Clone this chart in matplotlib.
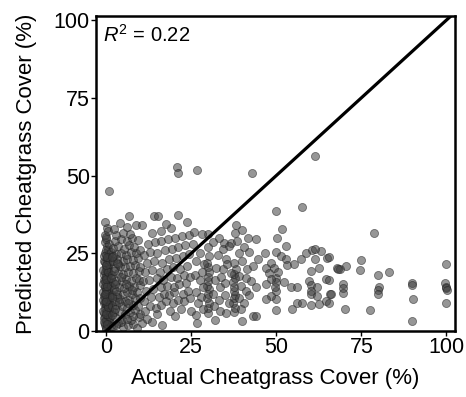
import matplotlib
matplotlib.use("Agg")
import matplotlib.pyplot as plt

plt.rcParams['font.family'] = ['Liberation Sans', 'DejaVu Sans']
plt.rcParams['mathtext.fontset'] = 'custom'
plt.rcParams['mathtext.rm'] = 'Liberation Sans'
plt.rcParams['mathtext.it'] = 'Liberation Sans:italic'

# ---- data: actual (x) vs predicted (y) cheatgrass cover, % ----
zero_actual = [0.0, 0.5, -0.5, 0.2, 0.8, -0.3, 0.4, -0.7, 0.1, 0.7,
               -0.2, 0.3, -0.6, 0.6, 0.0, -0.4, 0.5, 0.1, -0.8, 0.4,
               0.0, -0.3, 0.6, 0.2, -0.6, 0.3, -0.1, 0.5, -0.4, 0.1,
               0.6, -0.2, 0.2, -0.6, 0.4, 0.0, -0.3, 0.5, 0.1, -0.5,
               0.3, -0.3, 0.9, 0.0, -0.6, 0.6, 0.2, -0.1, 0.9, -0.5,
               0.4, 0.0, -0.3, 0.8, 0.3, -0.6, 0.0, 0.7, -0.2, 0.3,
               -0.5, 0.8, 0.0, -0.3, 0.5, 0.0, -0.6, 0.8, 0.2, -0.2,
               0.3, 0.9, -0.4, 0.1, 0.7, -0.1, 0.9, 0.0, -0.4, 0.2,
               -0.3, 0.7, 0.0, 0.6, -0.7, 1.0, 1.2, 1.1, 1.3, 1.0,
               1.2, 1.4, -0.9, -0.8, -0.9, -0.7, 1.3, 1.0, -0.9, 0.0,
               0.1, -0.2, 0.4, 0.0, -0.4, 0.3, 0.0, 0.5, -0.1, 0.2]
zero_pred = [1.0, 1.8, 2.5, 3.2, 3.9, 4.6, 5.2, 5.9, 6.5, 7.1,
             7.8, 8.4, 9.0, 9.6, 10.2, 10.9, 11.5, 12.1, 12.7, 13.3,
             13.9, 14.6, 15.2, 15.8, 16.4, 17.0, 17.7, 18.3, 19.0, 19.6,
             20.3, 21.0, 21.8, 22.6, 23.4, 24.3, 25.2, 26.1, 27.4, 28.6,
             1.5, 2.0, 2.8, 3.6, 4.2, 4.9, 5.6, 6.2, 6.8, 7.4,
             8.0, 8.8, 9.4, 10.0, 10.6, 11.2, 11.8, 12.4, 13.0, 13.6,
             14.2, 14.8, 15.5, 16.1, 16.7, 17.3, 18.0, 18.7, 19.3, 20.0,
             20.7, 21.4, 22.2, 23.0, 24.7, 26.0, 27.9, 29.5, 31.0, 33.0,
             35.2, 45.0, 30.2, 32.1, 3.0, 4.5, 8.6, 11.0, 14.5, 17.5,
             22.5, 25.5, 10.0, 15.0, 19.5, 24.0, 1.5, 6.0, 6.5, 0.5,
             2.2, 5.4, 7.6, 9.8, 12.0, 14.4, 16.6, 18.9, 21.2, 23.8]

low_actual = [2.0, 3.5, 5.0, 6.5, 8.0, 9.0, 7.2, 4.5, 2.5, 9.5,
              2.2, 3.8, 5.5, 7.0, 8.5, 10.0, 1.8, 3.0, 4.6, 6.0,
              7.8, 9.2, 2.5, 4.0, 5.5, 6.8, 8.5, 1.8, 3.2, 4.8,
              6.2, 7.5, 9.0, 2.2, 3.8, 5.2, 6.8, 8.2, 9.8, 2.0,
              3.0, 4.5, 5.8, 7.2, 8.8, 1.8, 3.5, 5.0, 6.5, 8.0,
              9.5, 2.5, 4.0, 5.5, 7.0, 8.6, 2.0, 3.2, 4.8, 6.2,
              7.8, 9.2, 2.8, 4.3, 5.8, 7.2, 8.8, 2.0, 3.6, 5.2,
              6.8, 8.3, 2.5, 4.2, 6.0, 7.6, 9.3, 3.0, 5.0, 7.0,
              2.2, 4.1, 6.0, 6.8, 8.8, 1.9, 3.5, 4.4, 5.9, 7.5,
              3.1, 6.5, 8.0, 4.2, 2.8, 6.0, 9.8, 9.5, 10.0, 10.0,
              1.6, 2.6, 1.7, 2.9, 1.5, 2.4, 3.3, 1.6, 2.7, 3.9]
low_pred = [1.5, 2.5, 1.2, 2.0, 2.2, 1.0, 3.5, 4.0, 4.5, 4.5,
            6.0, 6.5, 5.5, 6.0, 6.8, 5.5, 8.0, 8.5, 8.0, 7.5,
            8.5, 8.2, 9.8, 10.2, 9.5, 10.0, 10.5, 11.5, 12.0, 11.8,
            12.5, 12.0, 12.4, 13.5, 14.0, 13.8, 14.5, 14.0, 14.8, 15.8,
            16.2, 16.0, 16.8, 16.2, 17.0, 18.0, 18.5, 18.2, 19.0, 18.8,
            19.2, 20.2, 20.8, 20.5, 21.0, 21.2, 22.5, 23.0, 22.6, 23.2,
            22.8, 23.5, 24.8, 25.2, 24.6, 25.5, 25.0, 26.8, 27.2, 26.5,
            27.5, 27.0, 29.0, 29.5, 28.8, 29.8, 29.2, 31.0, 31.5, 31.2,
            32.8, 34.6, 33.5, 37.1, 34.0, 24.0, 21.5, 17.5, 15.0, 13.2,
            11.0, 9.0, 4.8, 3.0, 2.0, 3.8, 10.5, 16.5, 20.5, 26.0,
            5.0, 7.2, 10.8, 13.0, 16.9, 19.4, 21.8, 23.9, 15.0, 9.2]

mid_actual = [10.5, 12.0, 13.5, 15.0, 16.5, 18.8, 20.2, 22.0, 24.9, 11.5,
              12.8, 14.5, 16.0, 17.5, 19.5, 21.0, 23.0, 24.5, 11.0, 13.2,
              15.5, 17.0, 18.5, 20.0, 22.5, 24.0, 11.8, 13.8, 16.2, 18.0,
              19.8, 21.5, 23.5, 10.8, 12.5, 14.8, 16.8, 19.0, 20.8, 22.8,
              24.5, 11.5, 13.5, 15.8, 17.8, 19.5, 21.8, 23.8, 12.0, 14.0,
              16.5, 18.5, 20.5, 22.5, 24.4, 11.0, 13.0, 15.0, 17.2, 19.2,
              21.2, 23.2, 12.2, 14.2, 16.2, 18.2, 20.2, 22.2, 24.2, 13.5,
              16.0, 19.0, 21.0, 23.8, 13.9, 15.3, 20.7, 21.2, 10.5, 17.5]
mid_pred = [2.5, 4.0, 3.0, 5.5, 2.0, 6.5, 4.8, 7.0, 6.5, 6.5,
            8.0, 7.5, 8.5, 9.5, 9.0, 10.0, 9.5, 10.5, 9.8, 10.8,
            11.0, 12.0, 11.5, 12.5, 12.0, 13.0, 13.0, 13.5, 14.0, 14.5,
            14.0, 15.0, 15.5, 16.0, 16.5, 17.0, 16.5, 17.5, 17.0, 18.0,
            17.5, 19.0, 19.5, 19.0, 20.0, 20.5, 20.0, 21.0, 22.0, 22.5,
            22.0, 23.0, 23.5, 24.2, 24.7, 24.5, 25.5, 25.0, 26.0, 26.5,
            27.0, 27.5, 28.0, 28.5, 29.0, 29.5, 30.0, 30.5, 31.0, 31.5,
            32.0, 33.0, 37.3, 34.9, 36.9, 36.9, 52.7, 50.8, 34.0, 34.5]

upper_actual = [30.0, 29.8, 30.2, 29.6, 30.0, 30.3, 29.7, 30.0, 29.8, 30.2,
                30.0, 29.6, 30.3, 29.8, 30.0, 37.6, 37.8, 37.4, 37.6, 37.9,
                37.5, 37.7, 37.4, 37.8, 37.6, 38.0, 37.5, 37.9, 38.1, 26.7,
                25.9, 28.1, 34.7, 36.6, 38.3, 40.0, 41.8, 34.2, 36.1, 40.5,
                26.4, 28.8, 32.2, 34.2, 35.2, 36.6, 39.0, 40.0, 41.5, 43.0,
                26.0, 27.5, 28.5, 32.0, 33.5, 35.0, 39.5, 41.0, 42.5, 26.5,
                28.0, 31.5, 33.0, 34.8, 36.0, 39.0, 40.5, 42.0, 27.0, 28.5,
                31.8, 33.5, 35.2, 40.0, 43.0, 39.5, 26.5, 32.0, 27.5, 32.8,
                25.5, 31.5, 33.0, 42.0, 39.0, 35.5, 41.0, 28.2, 33.8, 26.8]
upper_pred = [5.9, 7.5, 9.0, 10.5, 12.0, 13.5, 14.5, 16.0, 17.5, 19.0,
              20.5, 22.0, 24.0, 26.9, 31.2, 6.0, 7.5, 9.0, 10.5, 11.5,
              12.8, 14.0, 15.6, 17.0, 18.3, 20.0, 22.0, 31.4, 34.2, 51.9,
              31.7, 31.2, 28.2, 28.2, 28.8, 32.5, 29.9, 26.4, 27.4, 26.9,
              22.6, 21.5, 20.4, 19.9, 23.1, 18.8, 17.7, 22.6, 19.9, 21.0,
              18.0, 16.5, 14.0, 16.5, 14.0, 15.5, 14.5, 13.0, 16.0, 12.5,
              11.0, 12.0, 10.0, 11.5, 9.0, 10.5, 9.0, 11.5, 9.0, 7.0,
              8.0, 6.5, 5.9, 3.2, 4.8, 7.0, 5.0, 3.5, 25.0, 24.5,
              28.0, 28.5, 30.0, 25.5, 25.0, 21.5, 17.0, 19.0, 17.5, 2.5]

high_actual = [52.7, 46.7, 44.7, 49.8, 51.3, 52.7, 48.3, 46.9, 49.3, 53.2,
               55.2, 57.1, 58.6, 60.6, 63.0, 61.5, 65.0, 60.1, 62.5, 47.8,
               50.0, 49.8, 48.3, 52.2, 54.2, 56.1, 46.9, 43.9, 59.6, 60.1,
               62.0, 60.1, 60.1, 64.7, 62.0, 65.9, 49.8, 49.8, 48.3, 46.9,
               56.1, 57.4, 60.1, 62.5, 64.5, 54.7, 49.8, 67.9, 44.0,
               49.8, 57.6, 51.6, 50.3, 44.1, 61.5, 42.7, 61.5, 65.6, 65.6,
               66.1, 65.6, 49.5, 50.5]
high_pred = [27.2, 25.0, 23.3, 25.3, 24.2, 23.3, 22.0, 20.1, 20.1, 21.2,
             21.5, 23.1, 25.0, 26.1, 25.8, 23.1, 23.6, 19.4, 20.4, 18.8,
             17.2, 15.6, 16.7, 15.6, 14.0, 14.0, 15.1, 14.0, 16.1, 14.7,
             14.0, 12.9, 11.8, 16.7, 11.3, 11.8, 12.9, 10.2, 11.3, 10.2,
             9.1, 8.9, 8.3, 8.6, 9.7, 7.2, 6.7, 20.1, 4.8,
             38.5, 39.8, 32.8, 29.8, 29.6, 26.4, 50.7, 56.2, 23.9, 16.3,
             11.8, 9.1, 14.0, 19.0]

top_actual = [68.6, 70.5, 75.0, 74.5, 79.9, 83.1, 69.5, 69.7, 69.7, 70.3,
              77.6, 80.3, 79.9, 79.9, 90.0, 89.8, 90.1, 89.8, 99.8, 99.6,
              99.8, 100.0, 100.2, 99.8, 78.8, 68.2]
top_pred = [20.0, 21.0, 22.8, 19.7, 18.0, 19.0, 15.0, 13.7, 12.3, 7.2,
            6.8, 14.2, 13.1, 11.8, 15.5, 14.7, 10.4, 3.3, 21.6, 15.5,
            14.3, 13.7, 13.1, 9.0, 31.6, 19.9]

ticks = [0, 25, 50, 75, 100]
r2_text = "0.22"

fig = plt.figure(figsize=(4.66, 3.97), dpi=100)
ax = fig.add_axes([96 / 466, 66 / 397, 359 / 466, 315 / 397])

groups = [(zero_actual, zero_pred), (low_actual, low_pred), (mid_actual, mid_pred),
          (upper_actual, upper_pred), (high_actual, high_pred), (top_actual, top_pred)]
for xs, ys in groups:
    ax.scatter(xs, ys, s=34, c='#404040', alpha=0.55, edgecolors='#202020',
               linewidths=0.6, zorder=2)

ax.plot([-5, 110], [-5, 110], color='black', lw=2.3, zorder=3)

ax.set_xlim(-3, 102.5)
ax.set_ylim(0, 101.3)
ax.set_xticks(ticks)
ax.set_yticks(ticks)
ax.tick_params(labelsize=15.5, length=3.5, width=1, pad=1, colors='black')
for sp in ax.spines.values():
    sp.set_linewidth(1.8)
ax.set_xlabel("Actual Cheatgrass Cover (%)", fontsize=16, labelpad=7)
ax.set_ylabel("Predicted Cheatgrass Cover (%)", fontsize=16, labelpad=12)
ax.text(0.02, 0.975, r"$R^2$ = " + r2_text, transform=ax.transAxes,
        fontsize=14.5, ha='left', va='top')

fig.savefig("out.png", dpi=100)
